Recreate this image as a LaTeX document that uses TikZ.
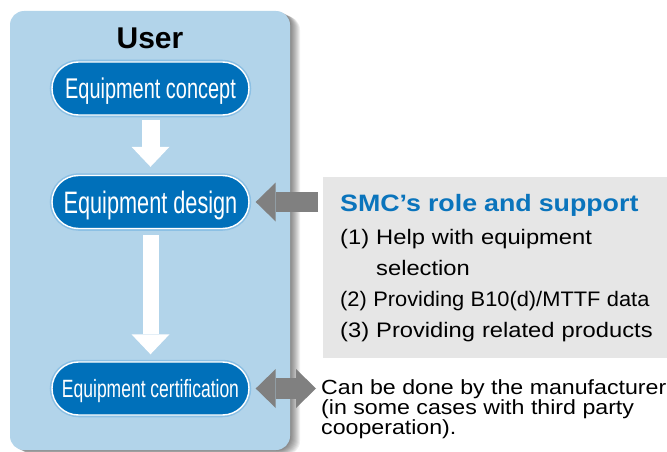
\documentclass[tikz,border=0pt]{standalone}
\usepackage{fontspec}
\usepackage{graphicx}
\setmainfont{Liberation Sans}
\newfontfamily\pillfont[FakeStretch=0.7]{Liberation Sans}
\newfontfamily\widefont[FakeStretch=1.13]{Liberation Sans}
\usetikzlibrary{arrows.meta,shapes.misc}
\definecolor{panelblue}{HTML}{B2D4EA}
\definecolor{pillblue}{HTML}{0070BA}
\definecolor{pillglow}{HTML}{8CC0E4}
\definecolor{smcblue}{HTML}{0A74BC}
\definecolor{boxgray}{HTML}{E6E6E6}
\definecolor{arrowgray}{HTML}{808080}

\begin{document}
\begin{tikzpicture}[x=1pt,y=-1pt,
  pill/.style={rounded rectangle, fill=pillblue, draw=white, line width=1.4pt,
    preaction={draw=pillglow, line width=4.5pt},
    minimum width=197pt, minimum height=53pt, inner sep=0pt, text depth=0pt,
    text=white},
  wharrow/.style={white, line width=#1,
    -{Triangle[length=20pt,width=38pt,line width=0pt]}},
  gyarrow/.style={arrowgray, line width=#1}]

   \useasboundingbox (0,0) rectangle (667,452);

   % user panel with its shadow
   \foreach \i in {1,...,10}
     \fill[black, opacity=0.06, rounded corners=14pt] (10+\i,11+0.5*\i) rectangle (290+\i,450+0.5*\i);
   \fill[panelblue, rounded corners=14pt] (10,11) rectangle (290,450);

   \node[font=\bfseries\fontsize{30}{36}\selectfont] (user) at (150,38.5) {User};

   \node[pill, font=\pillfont\fontsize{28.5}{34}\selectfont] (concept) at (150.5,88.5) {Equipment concept};
   \node[pill, font=\pillfont\fontsize{31}{36}\selectfont] (design) at (150.5,202) {Equipment design};
   \node[pill, font=\pillfont\fontsize{25}{30}\selectfont] (cert) at (150.5,388.5) {Equipment certification};

   % SMC support box
   \node[fill=boxgray, anchor=north west, minimum height=181pt, inner xsep=17pt, inner ysep=0pt,
     text width=320pt, align=left, font=\widefont\fontsize{21}{31}\selectfont] (smc) at (323,177)
     {{\bfseries\color{smcblue}\fontsize{23.7}{31}\selectfont SMC’s role and support}\\[2pt]
      (1) Help with equipment\\
      \phantom{(1) }selection\\
      \scalebox{0.92}[1]{(2) Providing B10(d)/MTTF data}\\
      (3) Providing related products};

   \node[anchor=west, inner sep=0pt, align=left, font=\widefont\fontsize{20.5}{19}\selectfont] (mfr) at (321,409)
     {Can be done by the manufacturer\\(in some cases with third party\\cooperation).};

   % arrows
   \draw[wharrow=18pt, shorten <=4pt, shorten >=8pt] (concept.south) -- (design.north);
   \draw[wharrow=16pt, shorten <=6pt, shorten >=7pt] (design.south) -- (cert.north);

   \draw[gyarrow=20pt, -{Triangle[length=20pt,width=39pt,line width=0pt]}, shorten <=5pt, shorten >=6pt]
     (smc.west |- design.east) -- (design.east);
   \draw[gyarrow=21pt, {Triangle[length=20pt,width=39pt,line width=0pt]}-{Triangle[length=20pt,width=39pt,line width=0pt]},
     shorten <=6pt, shorten >=5pt] (cert.east) -- (cert.east -| mfr.west);

 \end{tikzpicture}
\end{document}
